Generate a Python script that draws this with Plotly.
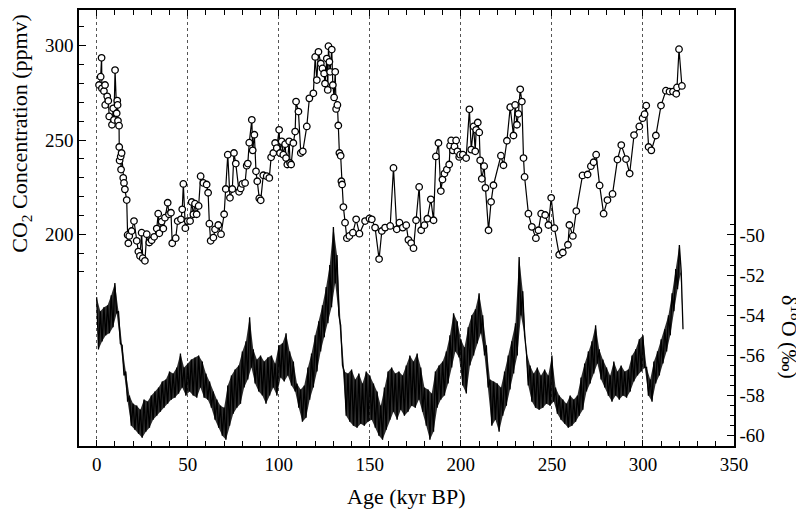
import plotly.graph_objects as go

# -----------------------------------------------------------------------------
# Data
# -----------------------------------------------------------------------------

# CO2 record: age (kyr BP) and concentration (ppmv)
co2_age = [
    1.3, 2.2, 2.7, 2.9, 4.0, 4.6, 4.7, 5.8, 6.4, 6.9, 8.4, 9.1, 9.5, 10.1, 11.0,
    11.3, 11.5, 11.7, 12.3, 12.4, 12.6, 13.2, 13.4, 13.7, 14.6, 15.0, 15.5, 16.5,
    17.0, 17.4, 17.9, 19.2, 20.5, 22.0, 22.9, 23.8, 24.7, 25.3, 26.5, 27.5, 28.9,
    30.2, 31.6, 33.0, 33.8, 34.4, 35.7, 36.6, 37.5, 39.0, 39.7, 40.8, 41.5, 43.4,
    44.5, 46.3, 47.0, 47.6, 48.7, 50.0, 51.3, 52.2, 53.1, 54.0, 54.9, 56.0, 57.1,
    58.6, 60.4, 61.2, 61.9, 62.6, 64.1, 65.0, 66.8, 68.3, 70.0, 70.9, 72.0, 73.2,
    74.5, 75.4, 76.4, 78.2, 79.1, 80.0, 81.5, 82.4, 83.0, 83.8, 85.2, 85.7, 86.6,
    87.5, 88.2, 89.3, 90.1, 91.5, 93.4, 94.8, 95.8, 97.0, 98.0, 98.9, 100.2,
    100.7, 101.6, 102.5, 103.5, 104.0, 104.7, 105.7, 106.2, 106.8, 108.0, 109.0,
    109.5, 110.8, 112.1, 113.2, 115.4, 116.8, 119.0, 120.0, 120.9, 121.8, 123.1,
    124.0, 124.9, 125.4, 126.4, 126.9, 127.3, 127.8, 128.2, 129.1, 129.7, 130.4,
    131.0, 131.5, 132.2, 132.7, 133.3, 134.0, 134.4, 134.8, 135.5, 136.4, 137.4,
    138.8, 140.7, 142.5, 144.3, 147.4, 149.8, 151.1, 152.9, 155.1, 156.6, 158.4,
    161.2, 163.0, 164.8, 166.3, 168.1, 170.0, 171.2, 172.7, 174.0, 175.4, 177.1,
    178.2, 180.0, 181.6, 183.5, 185.0, 186.3, 187.7, 189.0, 189.9, 191.0, 192.3,
    193.6, 194.1, 194.7, 195.6, 196.5, 197.4, 198.1, 199.1, 199.6, 201.1, 202.9,
    204.7, 205.7, 207.0, 207.9, 208.4, 209.3, 210.1, 210.6, 211.5, 212.8, 213.5,
    215.2, 216.6, 217.9, 222.0, 223.4, 225.3, 227.1, 228.9, 229.8, 230.8, 231.6,
    232.6, 233.5, 234.4, 235.0, 237.1, 239.0, 241.2, 242.6, 244.1, 246.3, 248.1,
    249.6, 251.4, 254.0, 256.0, 258.8, 259.6, 261.5, 263.4, 266.8, 269.6, 271.4,
    272.9, 274.3, 276.2, 278.4, 280.5, 283.3, 286.0, 288.1, 290.7, 292.7, 295.1,
    298.0, 299.8, 300.9, 301.8, 303.1, 304.6, 307.1, 309.9, 312.6, 314.6, 316.5,
    318.3, 318.7, 319.8, 321.4,
]
co2_ppmv = [
    279.2, 283.6, 293.6, 277.4, 276.0, 279.2, 268.6, 273.2, 270.8, 262.5, 258.1,
    266.8, 260.7, 287.1, 264.2, 270.9, 268.6, 260.2, 257.6, 246.3, 239.1, 241.3,
    234.3, 243.1, 229.9, 227.2, 223.8, 218.1, 199.6, 195.2, 199.1, 201.7, 207.0,
    196.5, 190.8, 188.5, 200.8, 187.3, 185.9, 200.0, 195.6, 196.8, 198.6, 203.0,
    210.9, 200.5, 206.7, 203.0, 208.8, 216.7, 210.6, 211.4, 195.2, 197.9, 207.0,
    207.9, 213.2, 226.7, 203.2, 207.0, 207.0, 217.1, 210.6, 216.2, 210.6, 215.0,
    230.8, 227.2, 226.4, 222.0, 205.6, 196.5, 198.2, 202.6, 204.9, 200.0, 210.6,
    224.0, 242.2, 219.3, 224.0, 243.1, 237.5, 222.5, 224.3, 226.7, 227.2, 236.4,
    237.5, 248.6, 260.7, 244.5, 252.8, 233.4, 228.1, 219.0, 218.0, 231.3, 230.8,
    229.9, 240.8, 243.1, 248.4, 245.7, 255.4, 243.1, 249.3, 242.2, 247.8, 240.4,
    237.0, 249.3, 237.8, 237.0, 248.4, 254.5, 270.4, 265.1, 243.1, 244.0, 257.2,
    272.1, 274.8, 294.1, 281.8, 296.8, 290.6, 288.0, 285.3, 280.0, 293.2, 276.6,
    299.8, 291.5, 286.2, 298.0, 279.2, 272.6, 286.2, 266.5, 268.6, 257.7, 243.1,
    241.6, 228.1, 226.4, 214.4, 206.1, 197.9, 199.1, 200.8, 207.9, 200.3, 207.0,
    208.4, 207.9, 203.5, 186.8, 201.7, 203.5, 204.4, 235.2, 202.6, 206.1, 203.5,
    204.8, 197.0, 195.3, 192.6, 207.4, 225.1, 202.1, 204.8, 208.2, 218.5, 207.4,
    241.3, 248.4, 222.9, 229.0, 232.2, 234.3, 237.0, 247.0, 249.8, 244.5, 246.6,
    249.8, 244.0, 241.0, 242.2, 242.2, 240.4, 266.3, 244.9, 257.2, 244.0, 255.4,
    259.3, 254.0, 239.2, 229.4, 236.1, 224.6, 202.1, 217.2, 226.0, 241.7, 236.6,
    249.6, 267.4, 252.4, 268.6, 258.1, 263.9, 276.9, 270.4, 240.4, 230.4, 210.9,
    203.9, 197.9, 202.1, 210.9, 210.2, 204.9, 219.3, 203.2, 189.1, 190.3, 194.4,
    204.9, 199.1, 212.3, 231.2, 231.7, 236.1, 238.2, 242.2, 225.9, 210.9, 218.1,
    221.4, 239.6, 247.3, 239.9, 232.2, 252.6, 257.2, 261.6, 263.7, 268.3, 246.3,
    244.5, 252.4, 268.3, 276.2, 275.7, 275.7, 274.5, 277.9, 298.2, 278.7,
]

# delta-18O trace: band tops at even ages (0..322) and band bottoms at odd ages (1..321)
d18o_top = [
    -53.1, -53.8, -53.6, -53.5, -53.0, -52.4, -53.8, -55.5, -56.8, -58.0,
    -58.4, -58.5, -58.7, -58.2, -58.3, -58.0, -57.8, -57.6, -57.3, -57.2,
    -56.8, -56.9, -56.6, -55.9, -56.6, -56.4, -56.2, -56.1, -56.0, -56.3,
    -56.9, -57.3, -57.8, -58.2, -58.5, -58.6, -57.5, -57.0, -56.7, -56.5,
    -55.8, -55.3, -54.1, -55.7, -56.2, -56.0, -56.3, -56.1, -56.0, -56.4,
    -55.5, -55.4, -54.9, -55.8, -56.3, -57.4, -57.7, -57.5, -56.6, -55.9,
    -55.0, -54.3, -53.5, -52.6, -51.5, -49.6, -51.0, -54.5, -56.8, -56.9,
    -56.7, -57.2, -56.9, -57.4, -56.8, -57.0, -57.4, -57.8, -58.5, -57.6,
    -56.8, -56.6, -56.9, -56.8, -57.0, -56.5, -56.0, -56.3, -55.9, -56.6,
    -57.6, -57.7, -57.9, -56.8, -56.5, -56.3, -55.8, -55.0, -53.9, -54.3,
    -55.2, -55.6, -54.6, -54.0, -53.7, -52.9, -54.0, -55.5, -57.2, -57.3,
    -57.4, -57.6, -56.8, -56.0, -55.3, -54.4, -51.1, -52.8, -55.8, -56.5,
    -56.9, -56.6, -57.0, -56.7, -57.0, -56.0, -57.6, -58.0, -58.2, -58.4,
    -58.0, -58.2, -58.0, -57.1, -56.4, -55.8, -55.3, -54.5, -55.7, -56.2,
    -56.6, -57.0, -56.3, -56.8, -56.5, -56.8, -56.7, -56.0, -55.7, -55.2,
    -55.0, -56.6, -57.2, -56.3, -55.8, -55.2, -54.7, -54.0, -52.9, -51.7,
    -50.5, -54.7,
]
d18o_bottom = [
    -55.7, -55.3, -55.0, -54.9, -54.6, -53.9, -55.4, -57.0, -58.3, -59.5,
    -59.7, -59.9, -60.1, -59.8, -59.6, -59.2, -59.0, -58.8, -58.6, -58.4,
    -58.2, -58.1, -57.9, -57.6, -58.0, -57.8, -58.0, -58.1, -57.6, -58.1,
    -58.2, -58.6, -59.2, -59.6, -60.0, -60.2, -59.5, -58.9, -58.6, -58.4,
    -57.6, -57.2, -56.6, -57.4, -57.8, -58.0, -58.4, -58.0, -57.6, -58.0,
    -57.1, -57.3, -57.0, -57.5, -57.8, -58.6, -59.3, -59.1, -58.2, -57.6,
    -56.8, -55.8, -55.1, -54.4, -53.6, -52.4, -54.0, -56.5, -59.0, -59.3,
    -59.5, -59.6, -59.4, -59.5, -59.3, -59.2, -59.6, -60.0, -60.2, -59.7,
    -59.2, -58.8, -59.2, -58.7, -59.0, -58.8, -58.5, -58.6, -58.2, -58.8,
    -59.5, -60.2, -59.8, -58.6, -58.2, -58.0, -57.4, -56.6, -55.8, -56.1,
    -57.5, -57.9, -56.5, -56.0, -55.4, -54.9, -56.0, -57.6, -59.5, -59.2,
    -59.8, -59.0, -58.5, -57.7, -56.9, -56.0, -54.0, -55.0, -57.5, -58.3,
    -58.6, -58.7, -58.6, -58.4, -58.5, -58.3, -58.9, -59.2, -59.4, -59.6,
    -59.5, -59.3, -59.0, -58.7, -57.8, -57.4, -56.9, -56.4, -57.2, -57.6,
    -58.0, -58.3, -58.0, -58.2, -58.0, -58.1, -57.8, -57.3, -57.0, -56.8,
    -56.6, -58.0, -58.3, -57.4, -57.0, -56.4, -55.8, -55.0, -53.8, -52.7,
    -51.8,
]

x_labels = [0, 50, 100, 150, 200, 250, 300, 350]
co2_labels = [200, 250, 300]
d18o_labels = [-60, -58, -56, -54, -52, -50]

# -----------------------------------------------------------------------------
# Figure
# -----------------------------------------------------------------------------

top_age = [2 * i for i in range(len(d18o_top))]
bottom_age = [2 * i + 1 for i in range(len(d18o_bottom))]

# noisy trace: alternate band top / band bottom readings
d18o_age, d18o_val = [], []
for i, top in enumerate(d18o_top):
    d18o_age.append(top_age[i])
    d18o_val.append(top)
    if i < len(d18o_bottom):
        d18o_age.append(bottom_age[i])
        d18o_val.append(d18o_bottom[i])

FONT = "Liberation Serif"

fig = go.Figure()

# shaded body of the delta-18O band, then the jagged trace over it
fig.add_trace(go.Scatter(
    x=top_age, y=d18o_top, yaxis="y2", mode="lines",
    line=dict(color="rgba(0,0,0,0)", width=0), showlegend=False, hoverinfo="skip",
))
fig.add_trace(go.Scatter(
    x=bottom_age, y=d18o_bottom, yaxis="y2", mode="lines",
    line=dict(color="rgba(0,0,0,0)", width=0), fill="tonexty",
    fillcolor="rgba(0,0,0,0.82)", showlegend=False, hoverinfo="skip",
))
fig.add_trace(go.Scatter(
    x=d18o_age, y=d18o_val, yaxis="y2", mode="lines",
    line=dict(color="black", width=1.3), showlegend=False,
))

fig.add_trace(go.Scatter(
    x=co2_age, y=co2_ppmv, mode="lines+markers",
    line=dict(color="black", width=1.2),
    marker=dict(symbol="circle", size=6.5, color="white",
                line=dict(color="black", width=1.3)),
    showlegend=False,
))

# page body adds an 8px offset, so the figure is 8px smaller than the window
fig.update_layout(
    width=796, height=505,
    margin=dict(l=71, r=70, t=0, b=67),
    paper_bgcolor="white", plot_bgcolor="white",
    font=dict(family=FONT, size=19, color="black"),
    xaxis=dict(
        range=[-9.7, 350], tickvals=x_labels, ticks="inside", ticklen=6,
        tickwidth=1, tickcolor="black",
        minor=dict(tickvals=[v for v in range(10, 350, 10) if v % 50],
                   ticks="inside", ticklen=5, tickcolor="black"),
        showline=True, linewidth=1.5, linecolor="black", mirror="ticks",
        showgrid=True, griddash="dot", gridcolor="#555", gridwidth=0.8,
        zeroline=False, tickfont=dict(family=FONT, size=19),
    ),
    yaxis=dict(
        range=[87.6, 319.0], tickvals=co2_labels, ticks="inside", ticklen=7,
        tickwidth=1, tickcolor="black",
        minor=dict(tickvals=[v for v in range(180, 320, 10) if v % 50],
                   ticks="inside", ticklen=5, tickcolor="black"),
        showline=True, linewidth=1.5, linecolor="black",
        showgrid=False, zeroline=False, tickfont=dict(family=FONT, size=19),
    ),
    yaxis2=dict(
        range=[-60.51, -38.8], overlaying="y", side="right",
        tickvals=d18o_labels, ticktext=[str(v) for v in d18o_labels],
        ticks="inside", ticklen=7, tickwidth=1, tickcolor="black",
        minor=dict(tickvals=[v / 2 for v in range(-121, -98) if v % 4],
                   ticks="inside", ticklen=4, tickcolor="black"),
        showline=True, linewidth=1.5, linecolor="black",
        showgrid=False, zeroline=False, tickfont=dict(family=FONT, size=19),
    ),
)

fig.add_annotation(text="CO<sub>2</sub> Concentration (ppmv)",
                   xref="paper", yref="paper", x=-0.088, y=0.717,
                   xanchor="center", yanchor="middle",
                   textangle=-90, showarrow=False,
                   font=dict(family=FONT, size=22))
fig.add_annotation(text="δ<sup>18</sup>O (‰)",
                   xref="paper", yref="paper", x=1.088, y=0.251,
                   xanchor="center", yanchor="middle",
                   textangle=90, showarrow=False,
                   font=dict(family=FONT, size=22))
fig.add_annotation(text="Age (kyr BP)",
                   xref="paper", yref="paper", x=0.5, y=-0.116,
                   xanchor="center", yanchor="middle", showarrow=False,
                   font=dict(family=FONT, size=22))

fig.write_html("out.html")
